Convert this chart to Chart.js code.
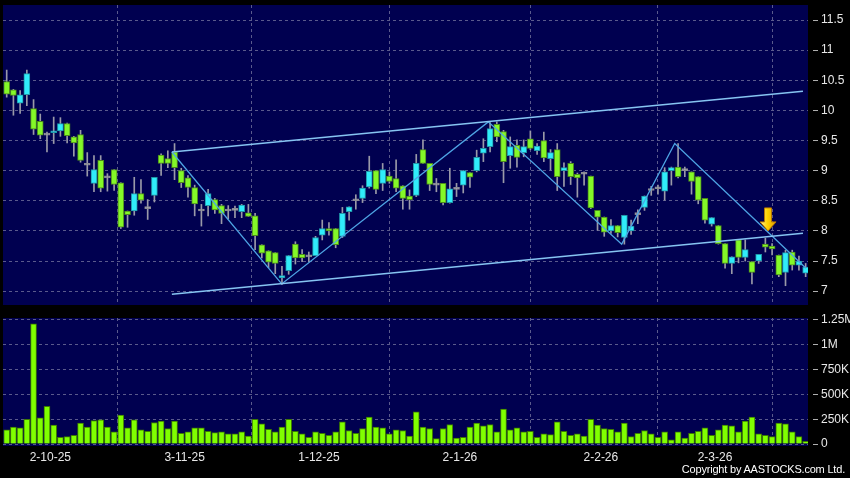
<!DOCTYPE html>
<html>
<head>
<meta charset="utf-8">
<script src="https://cdn.jsdelivr.net/npm/chart.js@4.4.1/dist/chart.umd.min.js"></script>
<style>
  body { margin: 0; background: #000; }
  #wrap { position: relative; width: 850px; height: 478px; overflow: hidden; }
  #priceBox { position: absolute; left: 0; top: 0; }
  #volBox { position: absolute; left: 0; top: 310px; }
  #copy { position: absolute; right: 5px; top: 463px; color: #fff; letter-spacing: -0.2px;
          font: 11px "Liberation Sans", Arial, sans-serif; }
</style>
</head>
<body>
<div id="wrap">
  <div id="priceBox"><canvas id="price" width="850" height="310"></canvas></div>
  <div id="volBox"><canvas id="vol" width="850" height="168"></canvas></div>
  <div id="copy">Copyright by AASTOCKS.com Ltd.</div>
</div>
<script>
// daily candles, 120 sessions (index 0 = first bar on the left)
const opens = [10.48,10.34,10.12,10.26,10.03,9.82,9.59,9.63,9.66,9.78,
  9.56,9.60,9.09,8.79,9.17,8.88,9.02,8.80,8.33,8.33,
  8.62,8.37,8.59,9.26,9.20,9.31,9.00,8.88,8.72,8.33,
  8.42,8.52,8.42,8.33,8.34,8.32,8.30,8.25,7.77,7.67,
  7.64,7.22,7.34,7.78,7.61,7.57,7.59,7.93,8.04,8.04,
  7.91,8.32,8.50,8.54,8.73,9.00,8.79,8.91,8.87,8.75,
  8.58,8.59,9.35,9.12,8.76,8.79,8.47,8.69,8.76,8.97,
  9.00,9.29,9.40,9.77,9.65,9.25,9.42,9.30,9.53,9.33,
  9.50,9.20,9.35,9.00,9.12,8.94,8.94,8.91,8.34,8.23,
  8.00,8.09,7.89,8.00,8.27,8.39,8.67,8.70,8.66,9.00,
  9.06,9.00,8.98,8.90,8.54,8.11,8.09,7.79,7.46,7.85,
  7.56,7.49,7.50,7.78,7.75,7.60,7.31,7.65,7.43,7.30];
const highs = [10.67,10.35,10.33,10.67,10.18,9.94,9.64,9.89,9.88,9.79,
  9.57,9.67,9.30,9.25,9.25,8.95,9.02,8.80,8.33,8.89,
  8.85,8.52,8.89,9.28,9.33,9.45,9.04,8.92,8.76,8.44,
  8.69,8.54,8.44,8.42,8.41,8.44,8.44,8.29,7.77,7.67,
  7.64,7.41,7.59,7.82,7.69,7.65,7.91,8.18,8.14,8.04,
  8.39,8.40,8.60,8.75,9.24,9.00,9.12,8.98,9.18,8.75,
  8.68,9.27,9.51,9.12,8.87,8.79,9.04,8.79,9.00,8.97,
  9.34,9.53,9.80,9.81,9.67,9.56,9.51,9.51,9.66,9.45,
  9.64,9.35,9.45,9.13,9.15,8.96,8.98,8.91,8.34,8.23,
  8.19,8.09,8.26,8.18,8.35,8.58,8.74,8.76,9.05,9.06,
  9.45,9.06,8.98,8.90,8.54,8.22,8.09,7.79,7.57,7.85,
  7.85,7.49,7.61,7.88,7.79,7.60,7.68,7.68,7.58,7.46];
const lows = [10.22,9.92,9.95,10.08,9.60,9.53,9.31,9.45,9.57,9.46,
  9.24,9.14,8.91,8.65,8.65,8.66,8.67,8.04,8.06,8.26,
  8.46,8.19,8.48,8.92,9.05,8.85,8.72,8.56,8.25,8.08,
  8.25,8.29,8.12,8.20,8.22,8.22,8.24,7.69,7.55,7.39,
  7.29,7.11,7.28,7.45,7.49,7.49,7.59,7.85,7.93,7.72,
  7.89,8.18,8.36,8.47,8.71,8.62,8.67,8.79,8.65,8.36,
  8.36,8.57,9.12,8.67,8.65,8.43,8.46,8.57,8.63,8.72,
  8.98,9.15,9.31,9.48,8.80,9.04,9.06,9.23,9.35,9.27,
  9.15,9.01,8.67,8.74,8.77,8.56,8.76,8.37,8.01,7.91,
  7.96,7.90,7.78,7.94,8.12,8.34,8.59,8.61,8.51,8.76,
  8.88,8.90,8.61,8.45,8.13,8.08,7.78,7.38,7.29,7.47,
  7.50,7.12,7.46,7.65,7.60,7.24,7.09,7.35,7.35,7.24];
const closes = [10.27,10.25,10.26,10.61,9.69,9.59,9.59,9.66,9.78,9.58,
  9.46,9.17,9.09,9.02,8.71,8.88,8.77,8.06,8.27,8.62,
  8.51,8.37,8.89,9.12,9.12,9.05,8.80,8.72,8.45,8.33,
  8.62,8.35,8.29,8.33,8.34,8.43,8.24,7.92,7.63,7.48,
  7.46,7.26,7.59,7.55,7.55,7.57,7.89,8.04,8.00,7.77,
  8.29,8.40,8.50,8.71,8.99,8.69,9.02,8.82,8.71,8.54,
  8.52,9.12,9.12,8.77,8.76,8.47,8.70,8.69,9.00,8.89,
  9.22,9.37,9.70,9.56,9.15,9.40,9.22,9.40,9.37,9.41,
  9.21,9.30,8.90,9.05,8.90,8.88,8.94,8.38,8.23,7.98,
  8.09,7.97,8.26,8.08,8.27,8.58,8.67,8.70,8.98,9.05,
  8.90,9.00,8.82,8.51,8.18,8.22,7.79,7.46,7.57,7.56,
  7.69,7.31,7.61,7.73,7.70,7.27,7.64,7.43,7.50,7.40];
// volume in thousands of shares
const volumes = [142,170,163,250,1210,264,380,190,68,75,
  88,210,170,237,244,170,122,291,163,244,
  142,129,217,230,156,230,108,122,163,163,
  129,115,122,102,102,122,81,250,203,149,
  122,170,250,129,102,68,122,108,88,122,
  224,136,108,156,271,170,163,102,142,136,
  81,325,170,156,54,156,197,61,68,170,
  210,183,197,122,352,142,163,122,129,68,
  102,95,224,129,88,102,81,250,190,156,
  149,122,210,75,108,136,102,68,122,41,
  122,61,108,129,163,88,142,190,183,122,
  230,271,102,88,75,210,203,122,75,27];

// date axis: bar index of the first session of each month shown
const tickIndex = [6, 26, 46, 67, 88, 105];
const tickLabels = ['2-10-25', '3-11-25', '1-12-25', '2-1-26', '2-2-26', '2-3-26'];
const priceTicks = [7, 7.5, 8, 8.5, 9, 9.5, 10, 10.5, 11, 11.5];
const volumeTicks = [0, 250, 500, 750, 1000, 1250];

// drawn trend lines [barIndex, price]
const channelTop = [[24.6, 9.31], [118.6, 10.32]];
const channelBottom = [[24.6, 6.95], [118.6, 7.96]];
const zigzag = [[24.6, 9.31], [40.96, 7.12], [71.73, 9.81], [91.6, 7.78], [99.5, 9.45], [119.05, 7.38]];
const arrowAt = [113.4, 8.0];

const NAVY = '#000050';
const GRID = '#5a5a8c';
const UP = '#30ecfa', UP_EDGE = '#2096a8';
const DOWN = '#84f828', DOWN_EDGE = '#4c8a1c';
const FLAT = '#a8a8b0';

Chart.defaults.font.family = '"Liberation Sans", Arial, sans-serif';
Chart.defaults.font.size = 12;
Chart.defaults.color = '#e8e8e8';

const X_MIN = -0.55, X_MAX = 119.35;

const panelBg = {
  id: 'panelBg',
  beforeDraw(chart) {
    const { ctx, chartArea: a } = chart;
    ctx.save();
    ctx.fillStyle = NAVY;
    ctx.fillRect(a.left, a.top, a.right - a.left, a.bottom - a.top);
    ctx.restore();
  }
};

const arrow = {
  id: 'arrow',
  afterDatasetsDraw(chart) {
    const { ctx, scales: { x, y } } = chart;
    const cx = x.getPixelForValue(arrowAt[0]);
    const tip = y.getPixelForValue(arrowAt[1]);
    const top = tip - 23;
    const g = ctx.createLinearGradient(cx - 8, 0, cx + 8, 0);
    g.addColorStop(0, '#fff0a0');
    g.addColorStop(0.45, '#ffd400');
    g.addColorStop(1, '#e09a00');
    ctx.save();
    ctx.beginPath();
    ctx.moveTo(cx - 3.5, top);
    ctx.lineTo(cx + 3.5, top);
    ctx.lineTo(cx + 3.5, tip - 9);
    ctx.lineTo(cx + 8, tip - 9);
    ctx.lineTo(cx, tip);
    ctx.lineTo(cx - 8, tip - 9);
    ctx.lineTo(cx - 3.5, tip - 9);
    ctx.closePath();
    ctx.fillStyle = g;
    ctx.fill();
    ctx.strokeStyle = '#b87800';
    ctx.lineWidth = 1;
    ctx.stroke();
    ctx.restore();
  }
};

function xScale(showLabels) {
  return {
    type: 'linear',
    min: X_MIN,
    max: X_MAX,
    offset: false,
    afterBuildTicks: s => { s.ticks = tickIndex.map(i => ({ value: i + 0.5 })); },
    afterFit: s => {
      s.height = showLabels ? 32 : 0;
      s.paddingLeft = 0;
      s.paddingRight = 0;
    },
    ticks: {
      display: showLabels,
      autoSkip: false,
      maxRotation: 0,
      padding: 4,
      callback: (v, i) => tickLabels[i]
    },
    grid: { color: GRID, drawTicks: false },
    border: { display: false, dash: [3, 3] }
  };
}

function yScale(min, max, ticks, fmt) {
  return {
    type: 'linear',
    position: 'right',
    min: min,
    max: max,
    afterBuildTicks: s => { s.ticks = ticks.map(v => ({ value: v })); },
    afterFit: s => {
      s.width = 42;
      // keep edge labels from pushing the plot area inwards
      s.paddingTop = 0;
      s.paddingBottom = 0;
    },
    ticks: { padding: 3, callback: fmt },
    grid: { color: GRID, tickColor: '#b0b0b0', tickLength: 10, tickBorderDash: [0, 5, 5, 100] },
    border: { display: false, dash: [3, 3] }
  };
}

const candleFill = opens.map((o, i) => closes[i] > o ? UP : closes[i] < o ? DOWN : FLAT);
const candleEdge = opens.map((o, i) => closes[i] > o ? UP_EDGE : closes[i] < o ? DOWN_EDGE : '#8a8a92');

const lineSet = (pts, color, w) => ({
  type: 'line',
  data: pts.map(p => ({ x: p[0], y: p[1] })),
  borderColor: color,
  borderWidth: w,
  pointRadius: 0,
  order: 0
});

new Chart(document.getElementById('price'), {
  type: 'bar',
  data: {
    datasets: [
      {
        data: opens.map((o, i) => ({ x: i, y: [Math.min(o, closes[i]), Math.max(o, closes[i])] })),
        backgroundColor: candleFill,
        borderColor: candleEdge,
        borderWidth: 1,
        borderSkipped: false,
        barThickness: 6,
        minBarLength: 2,
        grouped: false,
        order: 1
      },
      {
        data: lows.map((l, i) => ({ x: i, y: [l, highs[i]] })),
        backgroundColor: '#9a9aa8',
        barThickness: 1,
        grouped: false,
        order: 2
      },
      lineSet(channelTop, '#86c4f2', 1.5),
      lineSet(channelBottom, '#86c4f2', 1.5),
      lineSet(zigzag, '#4ea4e4', 1.3)
    ]
  },
  options: {
    responsive: false,
    animation: false,
    layout: { padding: { left: 3, top: 5, bottom: 5, right: 0 } },
    plugins: { legend: { display: false }, tooltip: { enabled: false } },
    scales: {
      x: xScale(false),
      y: yScale(6.77, 11.75, priceTicks, v => String(v))
    }
  },
  plugins: [panelBg, arrow]
});

new Chart(document.getElementById('vol'), {
  type: 'bar',
  data: {
    datasets: [{
      data: volumes.map((v, i) => ({ x: i, y: v })),
      backgroundColor: '#80ff00',
      borderColor: '#3c7a00',
      borderWidth: 1,
      barThickness: 6
    }]
  },
  options: {
    responsive: false,
    animation: false,
    layout: { padding: { left: 3, top: 8, bottom: 0, right: 0 } },
    plugins: { legend: { display: false }, tooltip: { enabled: false } },
    scales: {
      x: xScale(true),
      y: yScale(-20, 1270, volumeTicks, v => v === 0 ? '0' : v >= 1000 ? (v / 1000) + 'M' : v + 'K')
    }
  },
  plugins: [panelBg]
});
</script>
</body>
</html>
